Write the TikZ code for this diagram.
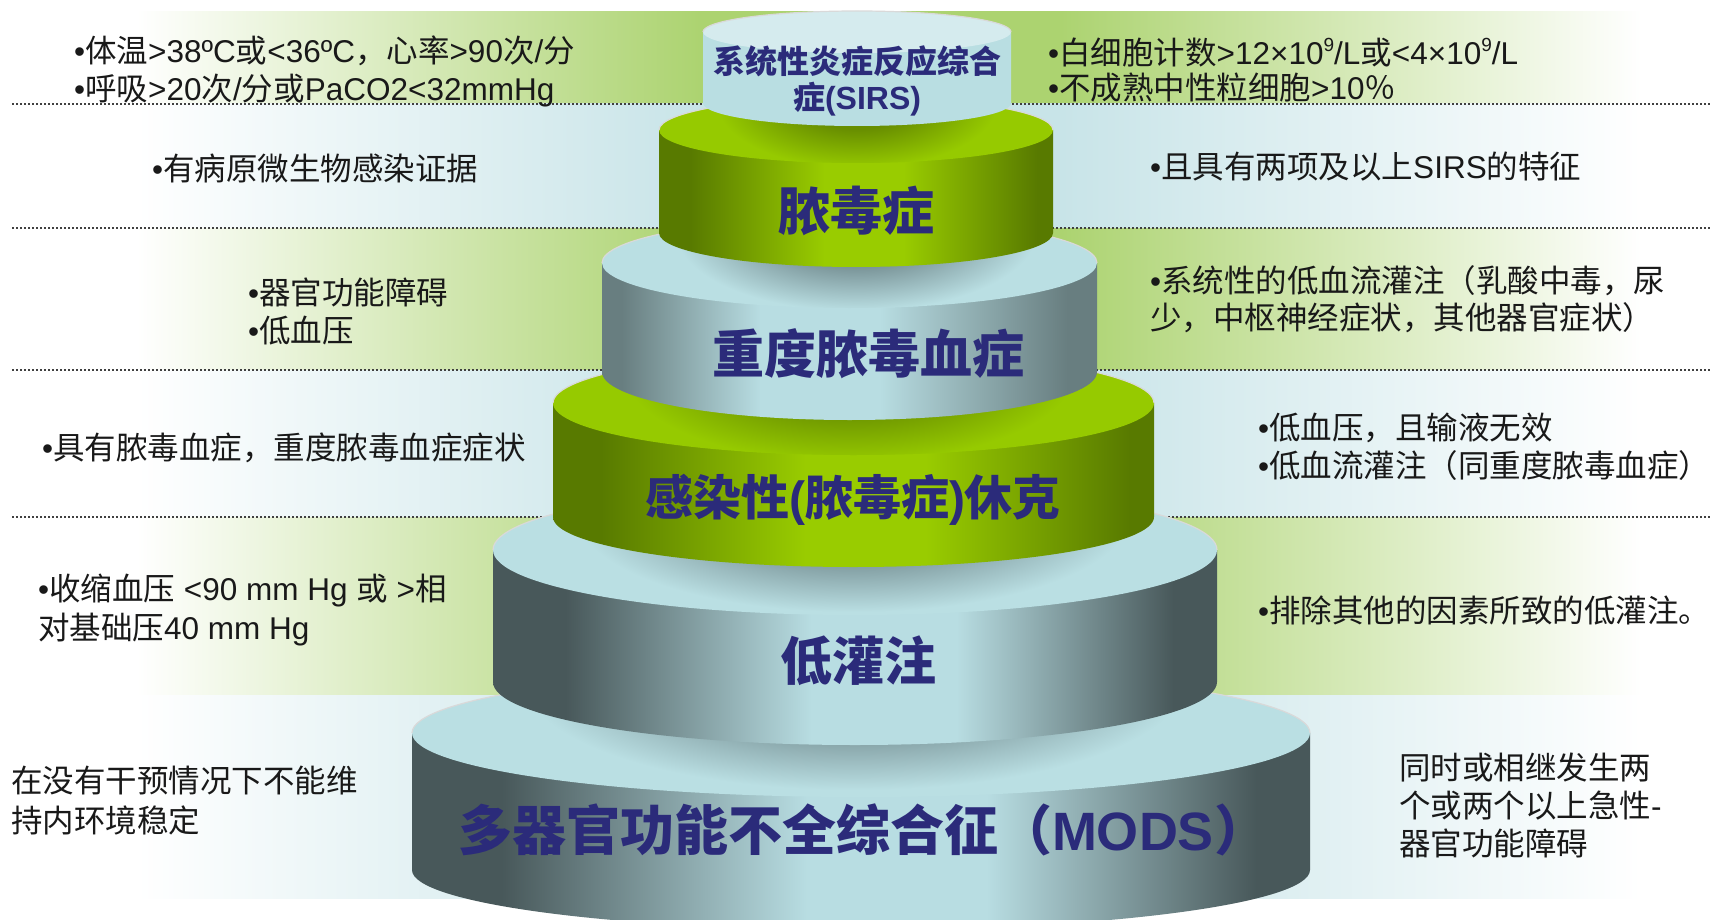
\documentclass[tikz,border=0pt]{standalone}
\usepackage{fontspec}
\setmainfont{Noto Sans CJK SC}
\newfontfamily\lat{Liberation Sans}
\definecolor{bandgreen}{RGB}{172,211,112}
\definecolor{bandblue}{RGB}{200,228,232}
\definecolor{bdark}{RGB}{72,88,90}
\definecolor{bdarkC}{RGB}{104,126,128}
\definecolor{blight}{RGB}{184,221,226}
\definecolor{btop}{RGB}{186,223,227}
\definecolor{sirstop}{RGB}{213,235,238}
\definecolor{sirsside}{RGB}{185,222,226}
\definecolor{gdark}{RGB}{88,122,0}
\definecolor{gbright}{RGB}{153,204,0}
\definecolor{gtop}{RGB}{150,202,0}
\definecolor{navy}{RGB}{43,43,122}
\definecolor{txt}{RGB}{25,25,25}
\definecolor{bshadow}{RGB}{118,144,148}
\definecolor{gshadow}{RGB}{104,142,0}
\colorlet{shA}{bshadow}
\colorlet{shB}{btop}
\pgfdeclarehorizontalshading{bandG}{100bp}{color(0bp)=(white); color(29bp)=(white); color(45.5bp)=(bandgreen); color(56bp)=(bandgreen); color(73bp)=(white); color(100bp)=(white)}
\pgfdeclarehorizontalshading{bandB}{100bp}{color(0bp)=(white); color(29bp)=(white); color(45.5bp)=(bandblue); color(56bp)=(bandblue); color(73bp)=(white); color(100bp)=(white)}
\pgfdeclarehorizontalshading{bside}{100bp}{color(0bp)=(bdark); color(30bp)=(bdark); color(47bp)=(blight); color(57bp)=(blight); color(72bp)=(bdark); color(100bp)=(bdark)}
\pgfdeclarehorizontalshading{bsideC}{100bp}{color(0bp)=(bdarkC); color(27bp)=(bdarkC); color(41bp)=(blight); color(53bp)=(blight); color(72bp)=(bdarkC); color(100bp)=(bdarkC)}
\pgfdeclarehorizontalshading{gside}{100bp}{color(0bp)=(gdark); color(29bp)=(gdark); color(46bp)=(gbright); color(56bp)=(gbright); color(73bp)=(gdark); color(100bp)=(gdark)}
\pgfdeclareradialshading[shA,shB]{topshadow}{\pgfpoint{0bp}{0bp}}{color(0bp)=(shA); color(10bp)=(shA); color(25bp)=(shB); color(50bp)=(shB)}
\newcommand\upsc[1]{\raisebox{0.42em}{\fontsize{19}{19}\selectfont #1}}
\newcommand\cylbody[6]{\shade[shading=#6] (#1-#2,-#3) -- (#1-#2,-#4) arc[start angle=180,end angle=360,x radius=#2,y radius=#5] -- (#1+#2,-#3) -- cycle;}
\newcommand\cyltop[5]{\fill[#5] (#1,-#3) ellipse[x radius=#2,y radius=#4];
  \draw[white!70!gray,line width=1.2] (#1+#2,-#3) arc[start angle=0,end angle=180,x radius=#2,y radius=#4];}
\tikzset{
  body/.style={anchor=base west,inner sep=0pt,text=txt,font=\fontsize{31.5}{36}\selectfont},
  lab/.style={anchor=base,inner sep=0pt,text=navy,font=\bfseries\fontsize{52}{60}\selectfont},
  dotln/.style={line width=1.5pt,dash pattern=on 1.5pt off 2.5pt,color=black!75}
}
\begin{document}
\begin{tikzpicture}[x=1pt,y=1pt]
\useasboundingbox (0,0) rectangle (1710,-920);
\fill[white] (0,0) rectangle (1710,-920);
% bands
\shade[shading=bandG] (0,-12) rectangle (1710,-104);
\shade[shading=bandB] (0,-104) rectangle (1710,-228);
\shade[shading=bandG] (0,-228) rectangle (1710,-370);
\shade[shading=bandB] (0,-370) rectangle (1710,-517);
\shade[shading=bandG] (0,-517) rectangle (1710,-695);
\shade[shading=bandB] (0,-695) rectangle (1710,-898);
% dotted separators
\draw[dotln] (12,-104) -- (1710,-104);
\draw[dotln] (12,-228) -- (1710,-228);
\draw[dotln] (12,-370) -- (1710,-370);
\draw[dotln] (12,-517) -- (1710,-517);
% C6 MODS
\cylbody{861}{449}{733}{870}{60}{bside}
\cyltop{861}{449}{733}{64}{btop}
\colorlet{shA}{bshadow}\colorlet{shB}{btop}
\begin{scope}\clip (861,-733) ellipse[x radius=449,y radius=64];
\shade[shading=topshadow] (855,-682) ellipse[x radius=330,y radius=108];\end{scope}
% C5
\cylbody{855}{362}{550}{682}{63}{bside}
\cyltop{855}{362}{550}{65}{btop}
\begin{scope}\clip (855,-550) ellipse[x radius=362,y radius=65];
\shade[shading=topshadow] (853.5,-517) ellipse[x radius=275,y radius=95];\end{scope}
% C4
\cylbody{853.5}{300.5}{403}{517}{50}{gside}
\cyltop{853.5}{300.5}{403}{52}{gtop}
\colorlet{shA}{gshadow}\colorlet{shB}{gtop}
\begin{scope}\clip (853.5,-403) ellipse[x radius=300.5,y radius=52];
\shade[shading=topshadow] (849.5,-372) ellipse[x radius=225,y radius=90];\end{scope}
% C3
\cylbody{849.5}{247.5}{263}{372}{48}{bsideC}
\cyltop{849.5}{247.5}{263}{45}{btop}
\colorlet{shA}{bshadow}\colorlet{shB}{btop}
\begin{scope}\clip (849.5,-263) ellipse[x radius=247.5,y radius=45];
\shade[shading=topshadow] (856,-233) ellipse[x radius=180,y radius=78];\end{scope}
% C2
\cylbody{856}{197}{130}{233}{34}{gside}
\cyltop{856}{197}{130}{33}{gtop}
\colorlet{shA}{gshadow}\colorlet{shB}{gtop}
\begin{scope}\clip (856,-130) ellipse[x radius=197,y radius=33];
\shade[shading=topshadow] (857,-103) ellipse[x radius=140,y radius=65];\end{scope}
% C1 SIRS
\fill[sirsside] (703,-32) -- (703,-103) arc[start angle=180,end angle=360,x radius=154,y radius=23] -- (1011,-32) -- cycle;
\cyltop{857}{154}{32}{21}{sirstop}
% cylinder labels
\node[lab,font=\bfseries\fontsize{32}{36}\selectfont] (c1a) at (857,-74) {系统性炎症反应综合};
\node[lab,font=\bfseries\fontsize{32}{36}\selectfont] (c1b) at (857,-110) {症{\lat (SIRS)}};
\node[lab] (c2) at (856,-230) {脓毒症};
\node[lab] (c3) at (868,-373) {重度脓毒血症};
\node[lab,font=\bfseries\fontsize{48}{56}\selectfont] (c4) at (853,-515) {感染性{\lat (}脓毒症{\lat )}休克};
\node[lab] (c5) at (858,-680) {低灌注};
\node[lab,font=\bfseries\fontsize{54}{60}\selectfont] (c6) at (863,-850) {多器官功能不全综合征（{\lat MODS}）};
% side texts
\node[body] (l1a) at (74,-63) {{\lat •}体温{\lat >38ºC}或{\lat <36ºC}，心率{\lat >90}次{\lat /}分};
\node[body] (l1b) at (74,-101) {{\lat •}呼吸{\lat >20}次{\lat /}分或{\lat PaCO2<32mmHg}};
\node[body] (r1a) at (1048,-65) {{\lat •}白细胞计数{\lat >12×10\upsc{9}/L}或{\lat <4×10\upsc{9}/L}};
\node[body] (r1b) at (1048,-100) {{\lat •}不成熟中性粒细胞{\lat >10}％};
\node[body] (l2) at (152,-181) {{\lat •}有病原微生物感染证据};
\node[body] (r2) at (1150,-179) {{\lat •}且具有两项及以上{\lat SIRS}的特征};
\node[body] (l3a) at (248,-304) {{\lat •}器官功能障碍};
\node[body] (l3b) at (248,-342) {{\lat •}低血压};
\node[body] (r3a) at (1150,-292) {{\lat •}系统性的低血流灌注（乳酸中毒，尿};
\node[body] (r3b) at (1150,-329) {少，中枢神经症状，其他器官症状）};
\node[body] (l4) at (42,-459) {{\lat •}具有脓毒血症，重度脓毒血症症状};
\node[body] (r4a) at (1258,-439) {{\lat •}低血压，且输液无效};
\node[body] (r4b) at (1258,-477) {{\lat •}低血流灌注（同重度脓毒血症）};
\node[body] (l5a) at (38,-600) {{\lat •}收缩血压{\lat\ <90 mm Hg }或{\lat\ >}相};
\node[body] (l5b) at (38,-639) {对基础压{\lat 40 mm Hg}};
\node[body] (r5) at (1258,-622) {{\lat •}排除其他的因素所致的低灌注。};
\node[body] (l6a) at (11,-792) {在没有干预情况下不能维};
\node[body] (l6b) at (11,-832) {持内环境稳定};
\node[body] (r6a) at (1399,-779) {同时或相继发生两};
\node[body] (r6b) at (1399,-817) {个或两个以上急性{\lat -}};
\node[body] (r6c) at (1399,-855) {器官功能障碍};
\end{tikzpicture}
\end{document}
